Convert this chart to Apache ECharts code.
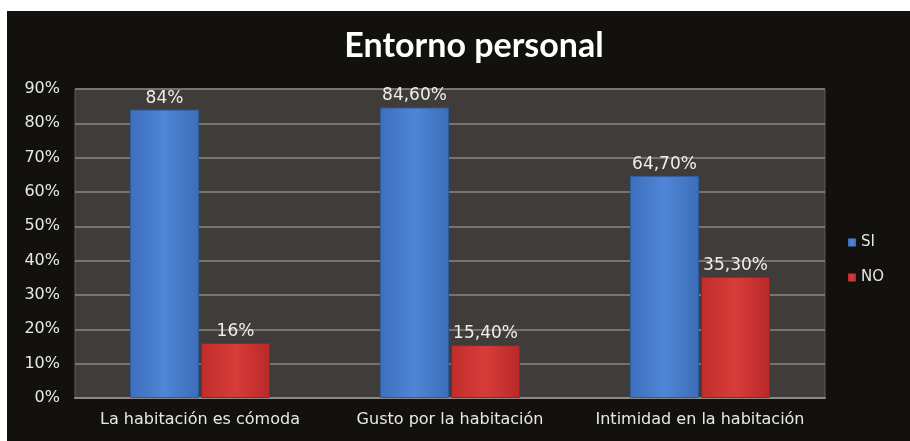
<!DOCTYPE html>
<html>
<head>
<meta charset="utf-8">
<script src="https://cdn.jsdelivr.net/npm/echarts@6/dist/echarts.min.js"></script>
<style>
  html, body { margin: 0; padding: 0; background: #ffffff; }
  #chart { position: absolute; left: 7px; top: 11px; width: 903px; height: 430px; background: #13110e; }
</style>
</head>
<body>
<div id="chart"></div>
<script>
// datos del gráfico
var categorias = ["La habitación es cómoda", "Gusto por la habitación", "Intimidad en la habitación"];
var valoresSi = [84, 84.6, 64.7];
var valoresNo = [16, 15.4, 35.3];
var etiquetasSi = ["84%", "84,60%", "64,70%"];
var etiquetasNo = ["16%", "15,40%", "35,30%"];
var ticksY = ["0%", "10%", "20%", "30%", "40%", "50%", "60%", "70%", "80%", "90%"];

var fuente = "'DejaVu Sans', sans-serif";

var myChart = echarts.init(document.getElementById("chart"));

var option = {
  animation: false,
  title: {
    text: "Entorno personal",
    left: 462,
    textAlign: "center",
    top: 13,
    textStyle: { color: "#ffffff", fontSize: 34, fontWeight: "bold", fontFamily: "Lato, sans-serif" }
  },
  legend: {
    orient: "vertical",
    left: 836,
    top: 219,
    itemWidth: 8,
    itemHeight: 8,
    itemGap: 20,
    icon: "rect",
    itemStyle: { borderWidth: 0 },
    textStyle: { color: "#e6e6e6", fontSize: 15, fontFamily: fuente },
    data: ["SI", "NO"]
  },
  grid: {
    left: 68,
    right: 85,
    top: 78,
    bottom: 43,
    show: true,
    backgroundColor: "#3f3c39",
    borderColor: "#5f5c59",
    borderWidth: 1
  },
  xAxis: {
    type: "category",
    data: categorias,
    axisTick: { show: false },
    axisLine: { lineStyle: { color: "#8d8a86", width: 2 } },
    axisLabel: { interval: 0, color: "#e8e8e8", fontSize: 16, fontFamily: fuente, margin: 14 }
  },
  yAxis: {
    type: "value",
    min: 0,
    max: 90,
    interval: 10,
    axisLine: { show: false },
    axisTick: { show: false },
    axisLabel: {
      color: "#e8e8e8",
      fontSize: 16,
      fontFamily: fuente,
      margin: 15,
      formatter: function (v) { return ticksY[Math.round(v / 10)]; }
    },
    splitLine: { lineStyle: { color: "#8a8783", width: 1.5 } }
  },
  series: [
    {
      name: "SI",
      type: "bar",
      data: valoresSi,
      barGap: "3%",
      barCategoryGap: "44%",
      itemStyle: {
        color: new echarts.graphic.LinearGradient(0, 0, 1, 0, [
          { offset: 0, color: "#3d6fbd" },
          { offset: 0.5, color: "#4f86d6" },
          { offset: 1, color: "#3c6db8" }
        ]),
        borderColor: "#2f5a9c",
        borderWidth: 1
      },
      label: {
        show: true,
        position: "top",
        distance: 3,
        color: "#eeeeee",
        fontSize: 17,
        fontFamily: fuente,
        formatter: function (p) { return etiquetasSi[p.dataIndex]; }
      }
    },
    {
      name: "NO",
      type: "bar",
      data: valoresNo,
      itemStyle: {
        color: new echarts.graphic.LinearGradient(0, 0, 1, 0, [
          { offset: 0, color: "#c02e2c" },
          { offset: 0.5, color: "#d83c38" },
          { offset: 1, color: "#b9292a" }
        ]),
        borderColor: "#9a2222",
        borderWidth: 1
      },
      label: {
        show: true,
        position: "top",
        distance: 3,
        color: "#eeeeee",
        fontSize: 17,
        fontFamily: fuente,
        formatter: function (p) { return etiquetasNo[p.dataIndex]; }
      }
    }
  ]
};

myChart.setOption(option);
window.addEventListener("resize", function () {
  myChart.resize();
});
</script>
</body>
</html>
